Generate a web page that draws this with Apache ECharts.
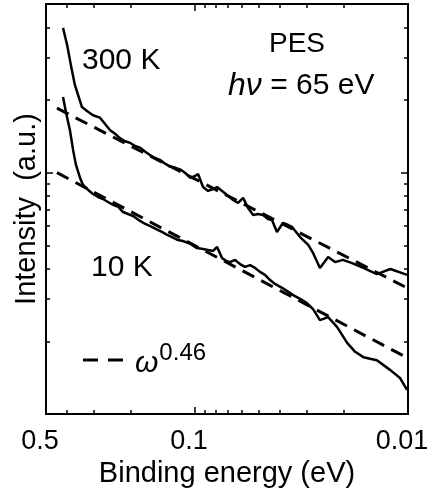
<!DOCTYPE html>
<html>
<head>
<meta charset="utf-8">
<script src="https://cdn.jsdelivr.net/npm/echarts@6.0.0/dist/echarts.min.js"></script>
<style>
  html, body { margin: 0; padding: 0; background: #fff; }
  #chart { width: 432px; height: 495px; }
</style>
</head>
<body>
<div id="chart"></div>
<script>
// binding energy (eV) and intensity (a.u.)
const energy300 = [0.416, 0.398, 0.382, 0.366, 0.350, 0.339, 0.321, 0.301, 0.279, 0.264, 0.250, 0.237, 0.225, 0.213, 0.202, 0.191, 0.181, 0.171, 0.162, 0.154, 0.146, 0.138, 0.131, 0.124, 0.117, 0.111, 0.105, 0.0999, 0.0967, 0.0916, 0.0868, 0.0822, 0.0787, 0.0746, 0.0707, 0.0662, 0.0628, 0.0594, 0.0563, 0.0533, 0.0506, 0.0479, 0.0454, 0.0435, 0.0412, 0.0386, 0.0365, 0.0350, 0.0321, 0.0294, 0.0279, 0.0259, 0.0237, 0.0220, 0.0202, 0.0183, 0.0162, 0.0140, 0.0121, 0.0101];
const intensity300 = [39.8, 33.8, 27.9, 23.1, 20.4, 18.7, 18.0, 17.3, 16.9, 15.9, 15.0, 14.5, 13.9, 13.5, 13.3, 12.9, 12.7, 12.2, 11.8, 11.5, 11.3, 10.9, 10.6, 10.5, 10.3, 9.97, 9.51, 9.69, 9.88, 8.72, 8.40, 8.56, 8.72, 8.40, 8.08, 7.71, 7.49, 7.86, 7.14, 6.68, 6.74, 6.68, 6.43, 6.37, 5.68, 6.19, 6.07, 5.96, 5.41, 5.02, 4.65, 4.03, 4.47, 4.26, 4.35, 4.22, 4.03, 3.80, 3.99, 3.77];

const energy10 = [0.416, 0.403, 0.386, 0.373, 0.362, 0.346, 0.335, 0.317, 0.301, 0.285, 0.270, 0.256, 0.242, 0.229, 0.2175, 0.206, 0.195, 0.181, 0.171, 0.162, 0.152, 0.143, 0.135, 0.128, 0.120, 0.114, 0.105, 0.0978, 0.0916, 0.0868, 0.0822, 0.0787, 0.0746, 0.0714, 0.0684, 0.0648, 0.0614, 0.0582, 0.0551, 0.0522, 0.0495, 0.0469, 0.0444, 0.0421, 0.039, 0.0369, 0.0346, 0.0321, 0.0298, 0.0279, 0.0259, 0.0237, 0.0215, 0.0193, 0.0177, 0.0162, 0.0140, 0.0121, 0.0109, 0.0101];
const intensity10 = [20.6, 17.8, 15.0, 12.4, 10.8, 9.51, 8.89, 8.48, 8.16, 7.93, 7.78, 7.56, 7.35, 7.21, 6.87, 6.74, 6.61, 6.31, 6.13, 6.01, 5.84, 5.68, 5.52, 5.41, 5.26, 5.21, 5.07, 4.87, 4.83, 4.78, 4.74, 4.92, 4.43, 4.31, 4.26, 4.35, 4.18, 4.07, 4.14, 4.03, 3.88, 3.77, 3.59, 3.46, 3.33, 3.23, 3.11, 3.00, 2.88, 2.72, 2.45, 2.52, 2.29, 1.97, 1.81, 1.72, 1.67, 1.52, 1.41, 1.26];

// omega^0.46 guide lines (end points)
const fitEnergy = [0.444, 0.0101];
const fit300 = [18.5, 3.33];
const fit10 = [10.0, 1.71];

const xLabelValues = [0.5, 0.1, 0.01];
const xMinorTicks = [0.4, 0.3, 0.2, 0.09, 0.08, 0.07, 0.06, 0.05, 0.04, 0.03, 0.02];
const xMajorTicks = [0.1];
const yMinorTicks = [2, 3, 4, 5, 6, 7, 8, 9, 20, 30, 40];
const yMajorTicks = [10];

const font = '"Liberation Sans", Arial, Helvetica, sans-serif';
const zip = (a, b) => a.map((v, i) => [v, b[i]]);

function xAx(pos, ticks, len, withLabels) {
  return {
    type: 'log', logBase: 10, min: 0.01, max: 0.5, inverse: true, position: pos,
    axisLine: { show: true, onZero: false, lineStyle: { color: '#000', width: 2 } },
    axisTick: { show: true, inside: true, length: len, customValues: ticks, lineStyle: { color: '#000', width: 1.5 } },
    axisLabel: withLabels ? {
      show: true, customValues: xLabelValues, color: '#000', fontSize: 27, fontFamily: font,
      margin: 14, padding: [0, 12, 0, 0],
      formatter: v => String(v)
    } : { show: false },
    name: withLabels ? 'Binding energy (eV)' : '',
    nameLocation: 'middle', nameGap: 40,
    nameTextStyle: { color: '#000', fontSize: 29, fontFamily: font },
    splitLine: { show: false }, minorTick: { show: false }
  };
}

function yAx(pos, ticks, len, withName) {
  return {
    type: 'log', logBase: 10, min: 1, max: 50, position: pos,
    axisLine: { show: true, onZero: false, lineStyle: { color: '#000', width: 2 } },
    axisTick: { show: true, inside: true, length: len, customValues: ticks, lineStyle: { color: '#000', width: 1.5 } },
    axisLabel: { show: false },
    name: withName ? 'Intensity  (a.u.)' : '',
    nameLocation: 'middle', nameGap: 5,
    nameTextStyle: { color: '#000', fontSize: 29, fontFamily: font },
    splitLine: { show: false }, minorTick: { show: false }
  };
}

const chart = echarts.init(document.getElementById('chart'), null, { renderer: 'canvas' });

const solid = { color: '#000', width: 2.5, type: 'solid' };
const dashed = { color: '#000', width: 3, type: [13, 8] };

const option = {
  animation: false,
  backgroundColor: '#fff',
  grid: { left: 46, right: 24, top: 4, bottom: 81, containLabel: false, outerBoundsMode: 'none' },
  xAxis: [
    xAx('bottom', xMinorTicks, 4, true),
    xAx('bottom', xMajorTicks, 7, false),
    xAx('top', xMinorTicks, 4, false),
    xAx('top', xMajorTicks, 7, false)
  ],
  yAxis: [
    yAx('left', yMinorTicks, 4, true),
    yAx('left', yMajorTicks, 7, false),
    yAx('right', yMinorTicks, 4, false),
    yAx('right', yMajorTicks, 7, false)
  ],
  legend: {
    left: 78, top: 336,
    data: [{ name: 'fit', icon: 'path://M0,0h15v3h-15zM25,0h15v3h-15z' }],
    itemWidth: 40, itemHeight: 3,
    formatter: () => '{w|ω}{s|0.46}',
    textStyle: {
      color: '#000', fontFamily: font, padding: [0, 0, 0, 7],
      rich: {
        w: { fontSize: 30, fontStyle: 'italic', fontFamily: font, lineHeight: 38, verticalAlign: 'bottom' },
        s: { fontSize: 24, fontFamily: font, lineHeight: 38, verticalAlign: 'top', padding: [0, 0, 0, 1] }
      }
    }
  },
  graphic: [
    { type: 'text', x: 82, y: 61, style: { text: '300 K', fill: '#000', font: '30px ' + font, align: 'left', verticalAlign: 'middle' } },
    { type: 'text', x: 297, y: 44, style: { text: 'PES', fill: '#000', font: '28px ' + font, align: 'center', verticalAlign: 'middle' } },
    { type: 'text', x: 228, y: 86, style: {
        text: '{i|hν} = 65 eV', fill: '#000', font: '30px ' + font, align: 'left', verticalAlign: 'middle',
        rich: { i: { fontStyle: 'italic', fontSize: 32, fontFamily: font, fill: '#000' } }
      } },
    { type: 'text', x: 91, y: 268, style: { text: '10 K', fill: '#000', font: '30px ' + font, align: 'left', verticalAlign: 'middle' } }
  ],
  series: [
    { name: '300 K', type: 'line', data: zip(energy300, intensity300), showSymbol: false, symbol: 'none', lineStyle: solid, z: 3 },
    { name: '10 K', type: 'line', data: zip(energy10, intensity10), showSymbol: false, symbol: 'none', lineStyle: solid, z: 3 },
    { name: 'fit', type: 'line', data: zip(fitEnergy, fit300), showSymbol: false, symbol: 'none', lineStyle: dashed, itemStyle: { color: '#000' }, z: 2 },
    { name: 'fit', type: 'line', data: zip(fitEnergy, fit10), showSymbol: false, symbol: 'none', lineStyle: dashed, itemStyle: { color: '#000' }, z: 2 }
  ]
};

chart.setOption(option);
</script>
</body>
</html>
